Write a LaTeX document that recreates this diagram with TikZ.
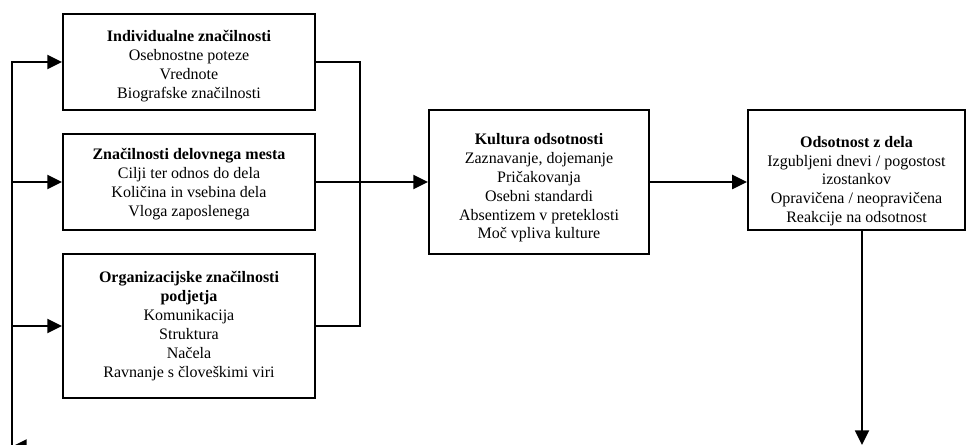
\documentclass[tikz,border=0pt]{standalone}
\usepackage{fontspec}
\setmainfont{Liberation Serif}
\usetikzlibrary{arrows.meta}
\newcommand{\padtop}[1]{\rule{0pt}{#1}}

\begin{document}
\begin{tikzpicture}[x=0.75pt, y=-0.75pt, >={Triangle[length=11pt,width=10.5pt]},
    line width=1.4pt,
    box/.style={draw, rectangle, align=center, inner sep=2pt,
                font=\fontsize{12}{14.2}\selectfont}]
\useasboundingbox (0,0) rectangle (967,445);
\clip (0,0) rectangle (967,445);
\coordinate (busL) at (12,470);
\coordinate (busR) at (360,0);
\coordinate (fbk)  at (70,446.5);
\coordinate (down) at (862,445);
\node[box, minimum width=189pt, minimum height=72pt] (ind) at (189,62)
    {\padtop{15pt}\textbf{Individualne značilnosti}\\Osebnostne poteze\\Vrednote\\Biografske značilnosti};
\node[box, minimum width=189pt, minimum height=72pt] (del) at (189,182)
    {\padtop{12pt}\textbf{Značilnosti delovnega mesta}\\Cilji ter odnos do dela\\Količina in vsebina dela\\Vloga zaposlenega};
\node[box, minimum width=189pt, minimum height=108pt] (org) at (189,326)
    {\textbf{Organizacijske značilnosti}\\\textbf{podjetja}\\Komunikacija\\Struktura\\Načela\\Ravnanje s človeškimi viri};
\node[box, minimum width=165pt, minimum height=108pt] (kul) at (539,182)
    {\padtop{17pt}\textbf{Kultura odsotnosti}\\Zaznavanje, dojemanje\\Pričakovanja\\Osebni standardi\\Absentizem v preteklosti\\Moč vpliva kulture};
\node[box, minimum width=163pt, minimum height=90pt] (ods) at (856.5,170)
    {\padtop{25pt}\textbf{Odsotnost z dela}\\Izgubljeni dnevi / pogostost\\izostankov\\Opravičena / neopravičena\\Reakcije na odsotnost};
% left feedback line
\draw[->] (busL) |- (ind.west);
\foreach \n in {del,org}{
    \draw[->] (busL |- \n.west) -- (\n.west);
}
\draw[->] (fbk) -- (fbk -| busL);
% right collector
\draw (ind.east) -| (busR |- org.east) -- (org.east);
\draw[->] (del.east) -- (kul.west);
\draw[->] (kul.east) -- (kul.east -| ods.west);
\draw[->] (ods.south -| down) -- (down);
\end{tikzpicture}
\end{document}
